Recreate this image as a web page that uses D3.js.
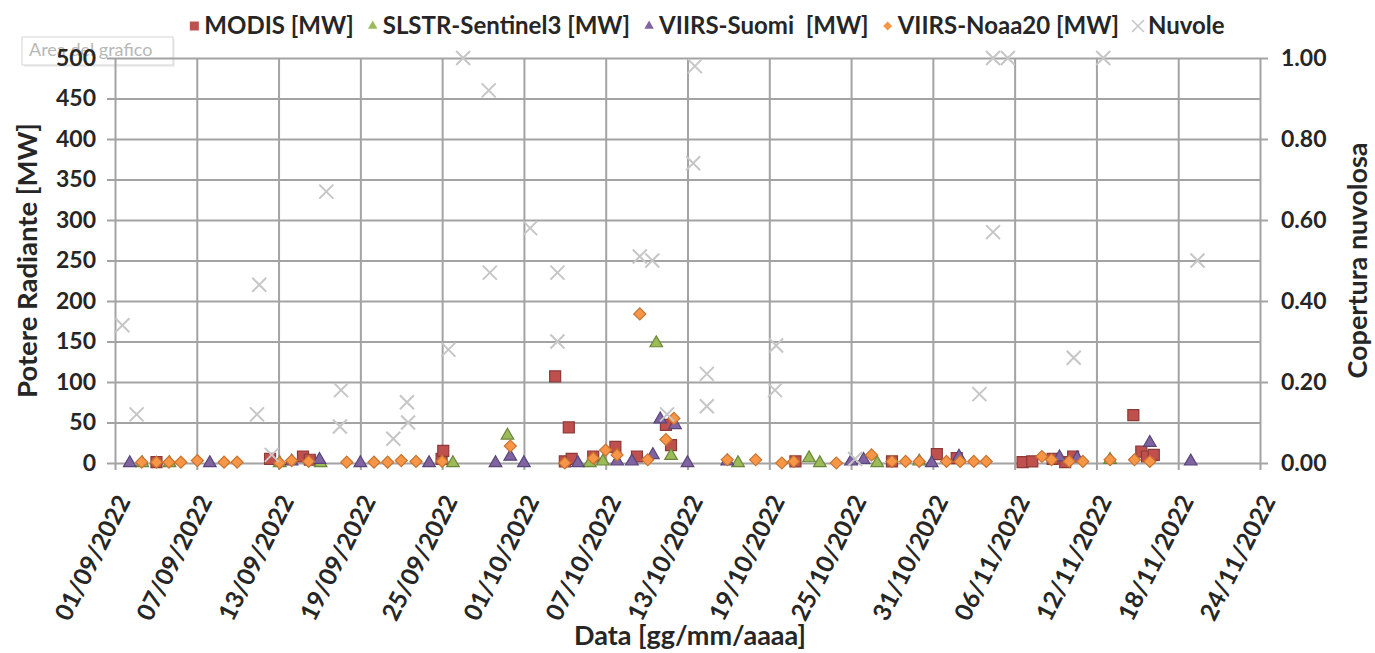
<!DOCTYPE html>
<html>
<head>
<meta charset="utf-8">
<script src="https://cdn.jsdelivr.net/npm/d3@7"></script>
<style>
  body { margin: 0; background: #fff; }
  text { font-family: Lato, "Open Sans", sans-serif; font-weight: bold; fill: #262626; }
</style>
</head>
<body>
<script>
// tick labels
var xTickLabels = ["01/09/2022", "07/09/2022", "13/09/2022", "19/09/2022", "25/09/2022",
  "01/10/2022", "07/10/2022", "13/10/2022", "19/10/2022", "25/10/2022",
  "31/10/2022", "06/11/2022", "12/11/2022", "18/11/2022", "24/11/2022"];
var leftTicks = [0, 50, 100, 150, 200, 250, 300, 350, 400, 450, 500];
var rightTicks = [0, 0.2, 0.4, 0.6, 0.8, 1.0];

// series [date, value]
var modis = [["04/09/2022 01:00", 1], ["12/09/2022 09:00", 5], ["14/09/2022 19:00", 8], ["15/09/2022 07:00", 4],
  ["24/09/2022 23:00", 5], ["25/09/2022 02:00", 15], ["03/10/2022 07:00", 107], ["04/10/2022 00:00", 2],
  ["04/10/2022 07:00", 44], ["04/10/2022 12:00", 5], ["06/10/2022 02:00", 8], ["07/10/2022 17:00", 20],
  ["09/10/2022 07:00", 8], ["11/10/2022 10:00", 47], ["11/10/2022 19:00", 22], ["20/10/2022 22:00", 2],
  ["28/10/2022 00:00", 2], ["31/10/2022 07:00", 11], ["01/11/2022 18:00", 6], ["06/11/2022 14:00", 1],
  ["07/11/2022 07:00", 2], ["08/11/2022 19:00", 5], ["09/11/2022 17:00", 1], ["10/11/2022 07:00", 8],
  ["14/11/2022 17:00", 59], ["15/11/2022 07:00", 14], ["15/11/2022 17:00", 8], ["16/11/2022 05:00", 10]];

var slstr = [["03/09/2022 00:00", 0], ["05/09/2022 00:00", 0], ["13/09/2022 02:00", 0], ["16/09/2022 02:00", 0],
  ["25/09/2022 19:00", 0], ["29/09/2022 19:00", 34], ["05/10/2022 20:00", 0], ["06/10/2022 19:00", 2],
  ["10/10/2022 17:00", 148], ["11/10/2022 19:00", 9], ["16/10/2022 17:00", 0], ["21/10/2022 22:00", 6],
  ["22/10/2022 17:00", 0], ["26/10/2022 22:00", 0], ["30/10/2022 00:00", 2], ["13/11/2022 00:00", 4]];

var suomi = [["02/09/2022 02:00", 0], ["07/09/2022 23:00", 0], ["13/09/2022 23:00", 2], ["16/09/2022 00:00", 4],
  ["19/09/2022 00:00", 0], ["24/09/2022 01:00", 0], ["28/09/2022 22:00", 0], ["30/09/2022 00:00", 8],
  ["01/10/2022 00:00", 0], ["04/10/2022 23:00", 0], ["07/10/2022 20:00", 2], ["08/10/2022 22:00", 2],
  ["10/10/2022 11:00", 10], ["11/10/2022 00:00", 54], ["12/10/2022 02:00", 47], ["13/10/2022 00:00", 0],
  ["15/10/2022 22:00", 2], ["25/10/2022 00:00", 2], ["25/10/2022 22:00", 4], ["30/10/2022 22:00", 0],
  ["01/11/2022 22:00", 8], ["09/11/2022 07:00", 7], ["10/11/2022 14:00", 6], ["15/11/2022 22:00", 25],
  ["18/11/2022 22:00", 2]];

var noaa20 = [["02/09/2022 23:00", 1], ["04/09/2022 01:00", 1], ["04/09/2022 23:00", 1], ["05/09/2022 20:00", 1],
  ["07/09/2022 01:00", 3], ["09/09/2022 00:00", 1], ["09/09/2022 23:00", 1], ["13/09/2022 02:00", 0],
  ["13/09/2022 23:00", 3], ["15/09/2022 05:00", 2], ["18/09/2022 00:00", 1], ["20/09/2022 00:00", 1],
  ["21/09/2022 00:00", 1], ["22/09/2022 00:00", 3], ["23/09/2022 02:00", 2], ["25/09/2022 00:00", 2],
  ["30/09/2022 00:00", 21], ["04/10/2022 00:00", 0], ["06/10/2022 02:00", 6], ["07/10/2022 00:00", 16],
  ["07/10/2022 20:00", 10], ["09/10/2022 12:00", 184], ["10/10/2022 02:00", 4], ["11/10/2022 10:00", 29],
  ["12/10/2022 00:00", 55], ["15/10/2022 22:00", 4], ["18/10/2022 00:00", 4], ["19/10/2022 22:00", 0],
  ["20/10/2022 19:00", 2], ["23/10/2022 22:00", 0], ["26/10/2022 12:00", 10], ["28/10/2022 00:00", 2],
  ["29/10/2022 00:00", 2], ["30/10/2022 00:00", 2], ["01/11/2022 00:00", 2], ["02/11/2022 00:00", 2],
  ["03/11/2022 00:00", 2], ["03/11/2022 22:00", 2], ["08/11/2022 00:00", 8], ["08/11/2022 17:00", 4],
  ["10/11/2022 00:00", 2], ["11/11/2022 00:00", 2], ["13/11/2022 00:00", 4], ["14/11/2022 19:00", 4],
  ["15/11/2022 22:00", 2]];

var nuvole = [["01/09/2022 13:00", 0.34], ["02/09/2022 14:00", 0.12], ["11/09/2022 10:00", 0.12], ["11/09/2022 14:00", 0.44],
  ["12/09/2022 12:00", 0.02], ["16/09/2022 12:00", 0.67], ["17/09/2022 12:00", 0.09], ["17/09/2022 14:00", 0.18],
  ["21/09/2022 10:00", 0.06], ["22/09/2022 10:00", 0.15], ["22/09/2022 12:00", 0.10], ["25/09/2022 11:00", 0.28],
  ["26/09/2022 13:00", 1.00], ["28/09/2022 10:00", 0.92], ["28/09/2022 12:00", 0.47], ["01/10/2022 11:00", 0.58],
  ["03/10/2022 11:00", 0.47], ["03/10/2022 11:00", 0.30], ["09/10/2022 12:00", 0.51], ["10/10/2022 10:00", 0.50],
  ["11/10/2022 12:00", 0.12], ["13/10/2022 10:00", 0.74], ["13/10/2022 13:00", 0.98], ["14/10/2022 10:00", 0.22],
  ["14/10/2022 10:00", 0.14], ["19/10/2022 10:00", 0.18], ["19/10/2022 12:00", 0.29], ["25/10/2022 07:00", 0.01],
  ["03/11/2022 10:00", 0.17], ["04/11/2022 10:00", 0.57], ["04/11/2022 10:00", 1.00], ["05/11/2022 12:00", 1.00],
  ["10/11/2022 08:00", 0.26], ["12/11/2022 12:00", 1.00], ["19/11/2022 10:00", 0.50]];

var parseTime = d3.timeParse("%d/%m/%Y %H:%M");
var parseDay = d3.timeParse("%d/%m/%Y");

var outerWidth = 1375, outerHeight = 653;
var plotLeft = 115, plotRight = 1260, plotTop = 58, plotBottom = 463;

var svg = d3.select("body").append("svg")
    .attr("width", outerWidth)
    .attr("height", outerHeight);

// Excel tooltip left on the picture
var tip = svg.append("g");
tip.append("rect").attr("x", 24).attr("y", 39).attr("width", 151).attr("height", 28)
    .attr("fill", "#ececec").attr("opacity", 0.8);
tip.append("rect").attr("x", 22).attr("y", 37).attr("width", 151).attr("height", 28)
    .attr("fill", "#fff").attr("stroke", "#d4d4d4");
tip.append("text").attr("x", 29).attr("y", 56).text("Area del grafico")
    .style("font-weight", "normal").style("font-size", "18px").style("fill", "#b8b8b8");

// scales
var x = d3.scaleTime()
    .domain([parseDay(xTickLabels[0]), parseDay(xTickLabels[xTickLabels.length - 1])])
    .range([plotLeft, plotRight]);
var yL = d3.scaleLinear().domain([0, 500]).range([plotBottom, plotTop]);
var yR = d3.scaleLinear().domain([0, 1]).range([plotBottom, plotTop]);

var gridColor = "#a3a3a3";

// left axis + horizontal grid
var gy = svg.append("g")
    .attr("transform", "translate(" + (plotLeft - 8) + ",0)")
    .call(d3.axisLeft(yL).tickValues(leftTicks).tickSize(-(plotRight - plotLeft + 8)).tickPadding(11));
gy.select(".domain").remove();
gy.selectAll("line").attr("stroke", gridColor).attr("stroke-width", 2);
gy.selectAll("text").style("font-size", "23px").style("font-family", "Lato, sans-serif").style("fill", "#262626");

// right axis
var gr = svg.append("g")
    .attr("transform", "translate(" + plotRight + ",0)")
    .call(d3.axisRight(yR).tickValues(rightTicks).tickSize(8).tickPadding(13).tickFormat(d3.format(".2f")));
gr.select(".domain").remove();
gr.selectAll("line").attr("stroke", gridColor).attr("stroke-width", 2);
gr.selectAll("text").style("font-size", "23px").style("font-family", "Lato, sans-serif").style("fill", "#262626");

// x axis + vertical grid
var gx = svg.append("g")
    .attr("transform", "translate(0," + (plotBottom + 7) + ")")
    .call(d3.axisBottom(x).tickValues(xTickLabels.map(parseDay))
      .tickSize(-(plotBottom + 7 - plotTop)).tickFormat(d3.timeFormat("%d/%m/%Y")));
gx.select(".domain").remove();
gx.selectAll("line").attr("stroke", gridColor).attr("stroke-width", 2);
gx.selectAll("text")
    .attr("y", 0).attr("dy", "0.35em")
    .attr("transform", "translate(8,27) rotate(-63)")
    .style("text-anchor", "end")
    .style("font-size", "24.5px").style("font-family", "Lato, sans-serif").style("fill", "#262626");

// axis titles
svg.append("text")
    .attr("transform", "translate(37," + ((plotTop + plotBottom) / 2) + ") rotate(-90)")
    .attr("text-anchor", "middle").style("font-size", "27.5px")
    .text("Potere Radiante [MW]");
svg.append("text")
    .attr("transform", "translate(1367," + ((plotTop + plotBottom) / 2) + ") rotate(-90)")
    .attr("text-anchor", "middle").style("font-size", "27px")
    .text("Copertura nuvolosa");
svg.append("text")
    .attr("x", 690).attr("y", 645)
    .attr("text-anchor", "middle").style("font-size", "27px")
    .text("Data [gg/mm/aaaa]");

// markers
var series = [
  {name: "MODIS [MW]", data: modis, type: "square", fill: "#c0504d", stroke: "#8c3a38", axis: yL},
  {name: "SLSTR-Sentinel3 [MW]", data: slstr, type: "triangle", fill: "#9bbb59", stroke: "#6a8739", axis: yL},
  {name: "VIIRS-Suomi  [MW]", data: suomi, type: "triangle", fill: "#8064a2", stroke: "#59457a", axis: yL},
  {name: "VIIRS-Noaa20 [MW]", data: noaa20, type: "diamond", fill: "#f79646", stroke: "#c97330", axis: yL},
  {name: "Nuvole", data: nuvole, type: "x", fill: "none", stroke: "#c6c6c6", axis: yR}
];

function markerPath(type, s) {
  if (type === "square") return d3.symbol().type(d3.symbolSquare).size(s * s)();
  if (type === "triangle") return d3.symbol().type(d3.symbolTriangle).size(Math.sqrt(3) / 4 * s * s * 1.1)();
  if (type === "diamond") return d3.symbol().type(d3.symbolSquare).size(s * s / 2)();
  var h = s / 2;
  return "M" + (-h) + "," + (-h) + "L" + h + "," + h + "M" + (-h) + "," + h + "L" + h + "," + (-h);
}

series.forEach(function(sr) {
  var size = sr.type === "x" ? 14 : (sr.type === "diamond" ? 12 : (sr.type === "triangle" ? 12 : 11));
  svg.append("g").selectAll("path")
    .data(sr.data)
    .enter().append("path")
    .attr("d", markerPath(sr.type, size))
    .attr("transform", function(d) {
      var t = "translate(" + x(parseTime(d[0])) + "," + sr.axis(d[1]) + ")";
      return sr.type === "diamond" ? t + " rotate(45)" : t;
    })
    .attr("fill", sr.fill)
    .attr("stroke", sr.stroke)
    .attr("stroke-width", sr.type === "x" ? 2 : 1.2);
});

// legend
var legend = svg.append("g");
var lx = 0;
series.forEach(function(sr) {
  var item = legend.append("g").attr("transform", "translate(" + lx + ",0)");
  var ls = sr.type === "x" ? 12 : 9;
  item.append("path")
    .attr("d", markerPath(sr.type, ls))
    .attr("transform", "translate(5,0)" + (sr.type === "diamond" ? " rotate(45)" : ""))
    .attr("fill", sr.fill)
    .attr("stroke", sr.type === "x" ? sr.stroke : "none")
    .attr("stroke-width", 1.5);
  var t = item.append("text")
    .attr("x", 15).attr("dy", "0.35em")
    .style("font-size", "24px")
    .attr("xml:space", "preserve")
    .text(sr.name);
  lx += 15 + t.node().getComputedTextLength() + 14;
});
legend.attr("transform", "translate(" + (707 - (lx - 14) / 2) + ",26)");
</script>
</body>
</html>
